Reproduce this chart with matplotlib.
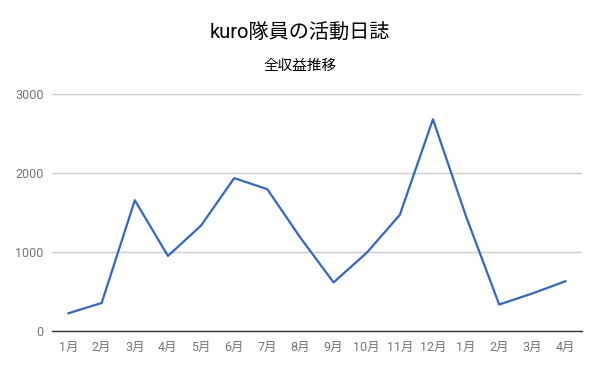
import matplotlib
matplotlib.use('Agg')
import matplotlib.pyplot as plt

plt.rcParams['font.family'] = ['Roboto', 'Noto Sans CJK JP', 'DejaVu Sans']

months = ['1月', '2月', '3月', '4月', '5月', '6月', '7月', '8月', '9月',
          '10月', '11月', '12月', '1月', '2月', '3月', '4月']
revenue = [225, 355, 1655, 950, 1335, 1935, 1795, 1180, 615,
           990, 1470, 2680, 1450, 335, 475, 630]
yticks = [0, 1000, 2000, 3000]

fig = plt.figure(figsize=(6.0, 3.71), dpi=100)
ax = fig.add_axes([52 / 600, 40 / 371, 530 / 600, 237 / 371])

x = list(range(len(months)))
ax.plot(x, revenue, color='#3366cc', linewidth=1.6, zorder=3)

ax.set_xlim(-0.5, len(months) - 0.5)
ax.set_ylim(0, 3000)
ax.set_yticks(yticks)
ax.set_yticklabels([str(v) for v in yticks])
ax.set_xticks(x)
ax.set_xticklabels(months)

ax.grid(axis='y', color='#cccccc', linewidth=1)
ax.set_axisbelow(True)
for side in ['top', 'right', 'left']:
    ax.spines[side].set_visible(False)
ax.spines['bottom'].set_color('#333333')
ax.spines['bottom'].set_linewidth(1)
ax.spines['bottom'].set_zorder(4)
ax.tick_params(axis='both', length=0, labelsize=9, labelcolor='#757575')
ax.tick_params(axis='x', pad=7)
ax.tick_params(axis='y', pad=6)

fig.text(0.5, 1 - 33 / 371, 'kuro隊員の活動日誌', ha='center', va='center',
         fontsize=14.5, color='#000000')
fig.text(0.5, 1 - 66 / 371, '全収益推移', ha='center', va='center',
         fontsize=10.5, color='#000000')

fig.savefig('out.png', dpi=100)
